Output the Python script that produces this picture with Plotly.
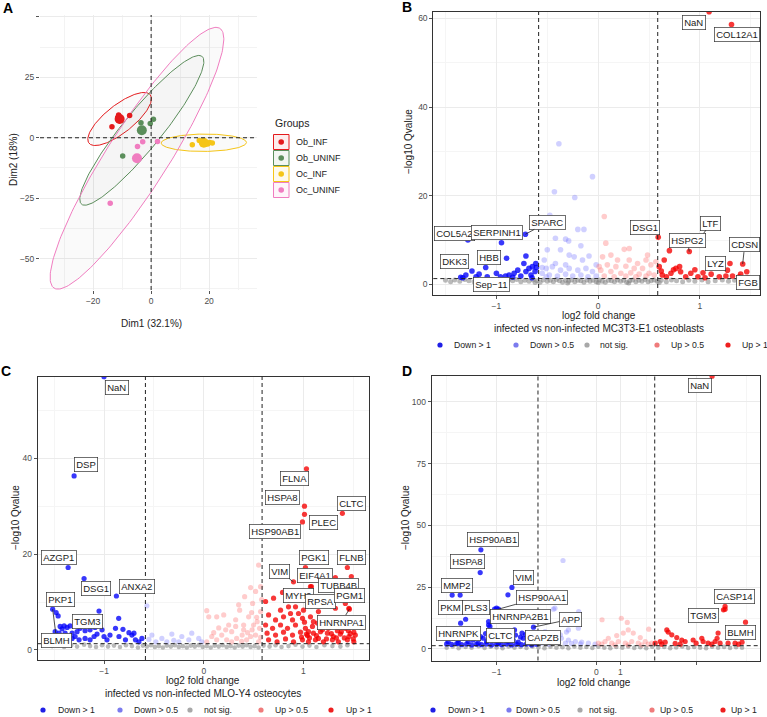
import numpy as np
import plotly.graph_objects as go

W, H = 767, 717
FONT = "Liberation Sans, Arial, Helvetica, sans-serif"

# ---------------- Panel A : PCA individuals ----------------
GROUPS = ["Ob_INF", "Ob_UNINF", "Oc_INF", "Oc_UNINF"]
GROUP_COLORS = ["#E41A1C", "#5B8E5B", "#F5C518", "#F07DC0"]
OB_INF_DIM1 = [-11.2, -11.5, -10.6, -10.9, -13.5, -7.4]
OB_INF_DIM2 = [9.4, 8.4, 8.0, 7.0, 4.6, 9.2]
OB_UNINF_DIM1 = [-3.5, -0.3, 0.8, -9.8]
OB_UNINF_DIM2 = [6.2, 5.9, 7.7, -7.5]
OC_INF_DIM1 = [14.2, 16.6, 17.4, 20.2, 21.1, 19.5]
OC_INF_DIM2 = [-2.9, -1.1, -1.6, -2.0, -2.2, -2.6]
OC_UNINF_DIM1 = [-2.9, -4.7, 2.2, -14.1]
OC_UNINF_DIM2 = [-1.7, -3.6, -1.5, -27.1]
# concentration ellipses: semi-axes (Dim units) and tilt (degrees)
ELLIPSE_A = [14.6, 37.0, 14.7, 60.9]
ELLIPSE_B = [5.3, 7.0, 3.6, 11.0]
ELLIPSE_ANGLE = [45.0, 56.2, 0.5, 62.3]

# ---------------- Volcano categories ----------------
CATEGORIES = ["Down > 1", "Down > 0.5", "not sig.", "Up > 0.5", "Up > 1"]
FC_CUT = 0.585
Q_CUT = 1.3

# ---------------- Panel B : MC3T3-E1 osteoblasts ----------------
B_SIG = [(-0.90, 5.9), (-0.71, 6.4), (-1.24, 3.0), (-1.17, 2.3), (-1.09, 1.7), (-1.35, 1.6),
         (-1.33, 1.5), (-0.875, 2.1), (-0.826, 2.5), (-0.79, 3.2), (-0.76, 1.9), (-0.71, 2.9),
         (-0.68, 3.6), (-0.646, 4.0), (-0.613, 4.7), (-0.607, 3.8), (-0.62, 2.9), (-0.66, 2.1),
         (-0.73, 4.7), (-1.0, 2.5), (-0.96, 1.7), (-0.91, 1.9), (-0.84, 1.6), (-0.65, 1.5),
         (-0.386, 31.7), (-0.056, 24.3), (-0.23, 19.6), (-0.43, 20.9), (-0.475, 15.6), (-0.42, 10.4),
         (-0.32, 10.2), (-0.20, 12.4), (-0.14, 12.4), (-0.50, 7.8), (-0.37, 7.8), (-0.285, 6.6),
         (-0.154, 5.5), (-0.53, 5.5), (-0.42, 4.7), (-0.32, 4.4), (-0.236, 6.2), (-0.09, 6.4),
         (-0.51, 3.6), (-0.45, 4.0), (-0.37, 3.2), (-0.285, 3.6), (-0.20, 3.2), (-0.12, 3.6),
         (-0.056, 2.9), (-0.55, 2.5), (-0.48, 2.1), (-0.40, 1.9), (-0.32, 2.3), (-0.25, 1.9),
         (-0.17, 2.1), (-0.10, 1.7), (-0.02, 1.9), (-0.55, 3.8), (-0.02, 4.4), (-0.51, 1.7),
         (-0.17, 8.7), (-0.29, 9.8),
         (0.06, 15.3), (0.256, 7.9), (0.485, 6.6), (0.305, 8.1), (0.075, 9.3), (0.125, 6.6),
         (0.043, 6.2), (0.19, 5.5), (0.305, 5.5), (0.387, 4.7), (0.47, 5.5), (0.09, 4.4),
         (0.174, 4.0), (0.272, 4.1), (0.354, 3.6), (0.436, 3.6), (0.518, 4.4), (0.026, 3.2),
         (0.125, 2.9), (0.223, 2.5), (0.32, 2.6), (0.403, 2.3), (0.50, 2.5), (0.06, 1.9),
         (0.157, 1.7), (0.272, 1.9), (0.37, 1.7), (0.47, 1.9), (0.55, 2.1), (0.01, 4.0), (0.567, 5.1),
         (0.70, 7.6), (0.649, 5.5), (0.60, 4.0), (0.764, 3.6), (0.81, 2.85), (0.91, 2.5),
         (1.03, 2.6), (1.11, 2.3), (1.19, 1.7), (1.255, 1.9), (1.32, 1.9), (1.386, 1.7),
         (1.47, 1.5), (0.63, 2.1), (0.715, 2.5), (0.86, 1.7), (0.98, 1.7), (1.27, 3.2),
         (1.05, 1.5), (0.67, 1.7), (0.74, 3.3), (0.62, 3.0), (0.80, 4.0), (0.95, 3.3), (1.40, 2.3)]
B_NS = [(-1.50, 0.9), (-1.45, 0.6), (-1.41, 1.0), (-1.36, 0.7), (-1.31, 1.1), (-1.27, 0.8),
        (-1.22, 0.6), (-1.18, 1.0), (-1.13, 0.7), (-1.09, 0.9), (-1.04, 1.1), (-1.00, 0.6),
        (-0.96, 0.9), (-0.92, 0.7), (-0.88, 1.0), (-0.84, 0.8), (-0.80, 1.1), (-0.76, 0.6),
        (-0.72, 0.9), (-0.68, 0.7), (-0.64, 1.0), (-0.60, 0.8), (-0.57, 0.5), (-0.54, 1.0),
        (-0.50, 0.7), (-0.47, 0.9), (-0.44, 0.6), (-0.41, 1.1), (-0.38, 0.8), (-0.35, 0.5),
        (-0.32, 0.9), (-0.29, 0.7), (-0.26, 1.0), (-0.23, 0.6), (-0.20, 0.9), (-0.17, 0.8),
        (-0.14, 0.5), (-0.11, 1.0), (-0.08, 0.7), (-0.05, 0.9), (-0.02, 0.6), (0.01, 1.0),
        (0.04, 0.7), (0.07, 0.5), (0.10, 0.9), (0.13, 0.8), (0.16, 0.6), (0.19, 1.0),
        (0.22, 0.7), (0.25, 0.9), (0.28, 0.5), (0.31, 0.8), (0.34, 1.0), (0.37, 0.6),
        (0.40, 0.9), (0.43, 0.7), (0.46, 1.1), (0.49, 0.6), (0.52, 0.8), (0.55, 1.0),
        (0.58, 0.7), (0.62, 0.9), (0.67, 0.6), (0.72, 1.0), (0.77, 0.8), (0.83, 0.6),
        (0.89, 0.9), (0.95, 0.7), (1.02, 1.0), (1.08, 0.6), (1.15, 0.8), (1.22, 1.0),
        (1.28, 0.7), (1.34, 0.9), (1.40, 0.6), (1.45, 0.8), (-0.62, 0.4), (-0.30, 0.3),
        (0.00, 0.4), (0.30, 0.3), (0.60, 0.4), (-0.90, 0.4)]
B_LABELS = [("NaN", 1.09, 61.5), ("COL12A1", 1.31, 58.6), ("SPARC", -0.715, 11.3),
            ("COL5A2", -1.28, 10.0), ("SERPINH1", -0.95, 9.4), ("DSG1", 0.59, 10.6),
            ("LTF", 0.99, 10.0), ("HSPG2", 0.895, 7.4), ("CDSN", 1.42, 4.6), ("LYZ", 1.295, 4.7),
            ("FGB", 1.46, 2.85), ("DKK3", -1.30, 2.1), ("HBB", -1.105, 3.8), ("Sep\u221211", -1.20, 1.7)]

# ---------------- Panel C : MLO-Y4 osteocytes ----------------
C_SIG = [(-1.05, 8.1), (-1.46, 7.1), (-1.44, 4.9), (-1.40, 5.0), (-1.37, 4.7), (-1.49, 3.8),
         (-1.45, 3.5), (-1.39, 3.5), (-1.32, 3.5), (-1.27, 3.8), (-1.24, 4.5), (-1.19, 4.0),
         (-1.14, 4.2), (-1.07, 3.3), (-1.09, 4.7), (-1.02, 4.2), (-1.0, 2.8), (-0.97, 2.1),
         (-0.94, 3.1), (-0.885, 4.5), (-0.85, 2.8), (-0.81, 4.3), (-0.785, 2.1), (-0.75, 3.6),
         (-0.72, 3.1), (-0.685, 2.1), (-0.65, 1.7), (-0.62, 2.4), (-1.19, 2.4), (-1.25, 2.1),
         (-1.32, 2.4), (-1.14, 2.1), (-1.10, 2.8), (-0.853, 6.6), (-0.70, 3.5), (-1.42, 4.4),
         (-1.29, 2.8),
         (-0.57, 9.2), (-0.52, 3.1), (-0.42, 2.4), (-0.32, 3.3), (-0.22, 2.8), (-0.12, 3.5),
         (-0.05, 2.4), (-0.48, 1.7), (-0.37, 1.7), (-0.25, 1.7), (-0.15, 2.1), (-0.02, 1.7),
         (-0.55, 2.2), (-0.30, 2.0),
         (0.55, 17.7), (0.47, 13.0), (0.52, 12.2), (0.41, 11.1), (0.35, 9.4), (0.03, 8.2),
         (0.13, 6.9), (0.05, 6.9), (0.20, 7.3), (0.25, 5.2), (0.32, 6.3), (0.36, 8.3), (0.40, 5.2),
         (0.45, 6.9), (0.49, 9.7), (0.535, 5.9), (0.57, 8.0), (0.28, 3.8), (0.385, 3.1),
         (0.485, 4.2), (0.18, 3.1), (0.08, 2.8), (0.13, 2.1), (0.23, 2.1), (0.33, 2.4),
         (0.43, 2.1), (0.52, 3.1), (0.55, 1.7), (0.03, 1.7), (0.28, 1.7), (0.40, 4.2), (0.50, 5.2),
         (0.32, 4.9), (0.56, 4.5), (0.15, 4.6), (0.38, 1.8), (0.47, 2.8), (0.57, 2.6), (0.10, 3.6),
         (0.22, 4.2), (0.44, 3.6), (0.53, 6.8), (0.48, 7.8), (0.58, 10.5), (0.57, 13.2),
         (1.48, 15.3), (1.07, 13.2), (0.85, 9.0), (0.92, 9.0), (1.0, 8.3), (0.77, 8.3), (1.15, 8.0),
         (1.22, 9.4), (1.32, 8.7), (1.455, 8.7), (0.65, 7.3), (0.72, 6.25), (0.80, 6.9), (0.89, 6.25),
         (0.99, 6.6), (1.07, 6.9), (1.14, 5.6), (1.22, 6.6), (1.30, 5.6), (1.39, 5.9), (0.62, 5.2),
         (0.69, 4.5), (0.77, 5.2), (0.84, 4.5), (0.92, 5.2), (1.02, 4.5), (1.09, 4.9), (1.19, 4.2),
         (1.25, 4.5), (1.34, 4.0), (1.42, 4.5), (1.505, 3.7), (0.635, 3.5), (0.72, 3.1), (0.80, 3.7),
         (0.89, 3.1), (0.97, 3.7), (1.04, 3.0), (1.10, 3.5), (1.15, 2.4), (1.24, 3.5), (1.30, 2.8),
         (1.37, 3.3), (1.455, 2.8), (1.52, 3.1), (0.65, 2.1), (0.735, 1.7), (0.82, 2.3), (0.90, 1.7),
         (0.99, 2.1), (1.05, 1.7), (1.12, 2.1), (1.20, 1.7), (1.29, 2.1), (1.35, 1.7), (1.44, 2.1),
         (1.505, 1.7), (0.62, 10.1), (0.70, 10.8), (0.85, 10.4), (0.99, 11.5), (1.09, 10.1),
         (1.34, 11.5), (1.455, 11.1), (1.05, 3.8), (1.27, 5.2), (1.10, 5.9), (1.01, 5.8), (0.87, 7.6),
         (0.95, 7.6), (0.98, 2.7), (1.03, 3.3), (1.06, 2.5), (1.13, 3.0), (1.17, 3.8), (1.23, 2.3),
         (1.28, 3.4), (1.33, 2.5), (1.38, 3.8), (1.41, 2.5), (1.47, 3.4), (1.50, 2.3), (1.45, 4.0),
         (1.35, 4.8)]
C_NS = [(-1.52, 0.8), (-1.46, 1.0), (-1.40, 0.6), (-1.33, 0.9), (-1.27, 0.7), (-1.20, 1.1),
        (-1.14, 0.8), (-1.08, 0.6), (-1.02, 1.0), (-0.96, 0.7), (-0.90, 0.9), (-0.84, 0.6),
        (-0.78, 1.0), (-0.72, 0.8), (-0.66, 0.5), (-0.61, 0.9), (-0.57, 0.7), (-0.53, 1.0),
        (-0.49, 0.6), (-0.45, 0.8), (-0.41, 0.5), (-0.37, 0.9), (-0.33, 0.7), (-0.29, 1.0),
        (-0.25, 0.6), (-0.21, 0.8), (-0.17, 0.5), (-0.13, 0.9), (-0.09, 0.7), (-0.05, 1.0),
        (-0.01, 0.6), (0.03, 0.8), (0.07, 0.5), (0.11, 0.9), (0.15, 0.7), (0.19, 1.0),
        (0.23, 0.6), (0.27, 0.8), (0.31, 0.5), (0.35, 0.9), (0.39, 0.7), (0.43, 1.0),
        (0.47, 0.6), (0.51, 0.8), (0.55, 0.5), (0.60, 0.9), (0.66, 0.7), (0.72, 1.0),
        (0.78, 0.6), (0.85, 0.8), (0.92, 1.1), (0.99, 0.7), (1.06, 0.9), (1.13, 0.6),
        (1.21, 1.0), (1.29, 0.8), (1.37, 0.7), (1.44, 1.0)]
C_LABELS = [("NaN", -1.0, 57.0), ("DSP", -1.30, 36.3), ("FLNA", 1.03, 37.8), ("HSPA8", 1.01, 30.0),
            ("CLTC", 1.39, 28.5), ("PLEC", 1.01, 28.3), ("HSP90AB1", 0.99, 26.7),
            ("AZGP1", -1.36, 17.2), ("PGK1", 1.02, 17.2), ("FLNB", 1.44, 17.2), ("VIM", 0.90, 14.2),
            ("EIF4A1", 1.08, 13.2), ("TUBB4B", 1.32, 15.1), ("DSG1", -1.20, 14.9),
            ("ANXA2", -0.876, 11.25), ("MYH9", 0.79, 12.0), ("RPSA", 1.08, 9.2), ("PGM1", 1.42, 9.7),
            ("HNRNPA1", 1.46, 8.5), ("PKP1", -1.48, 7.8), ("BLMH", -1.515, 8.5), ("TGM3", -1.34, 5.0)]

# ---------------- Panel D ----------------
D_SIG = [(-1.485, 3.0), (-1.435, 4.3), (-1.385, 2.3), (-1.334, 4.3), (-1.284, 3.0), (-1.234, 3.6),
         (-1.184, 2.3), (-1.134, 4.3), (-1.084, 3.6), (-1.033, 3.6), (-0.983, 2.3), (-0.933, 4.3),
         (-0.883, 3.0), (-0.833, 3.6), (-0.783, 2.7), (-0.732, 4.3), (-0.682, 3.0), (-0.632, 3.6),
         (-1.46, 5.7), (-1.41, 6.5), (-1.36, 5.2), (-1.31, 7.0), (-1.26, 5.7), (-1.21, 6.6),
         (-1.16, 5.0), (-1.11, 6.2), (-1.06, 7.4), (-1.01, 5.4), (-0.96, 6.5), (-0.91, 5.1),
         (-0.86, 7.0), (-0.81, 5.6), (-0.76, 4.8), (-0.71, 5.8), (-0.66, 4.9), (-1.50, 2.0),
         (-1.45, 1.8), (-1.40, 2.1), (-1.35, 1.7), (-1.30, 2.0), (-1.25, 1.6), (-1.20, 1.9),
         (-1.15, 1.7), (-1.10, 2.0), (-1.05, 1.6), (-1.00, 1.9), (-0.95, 1.7), (-0.90, 2.0),
         (-0.85, 1.6), (-0.80, 1.9), (-0.75, 1.7), (-0.70, 2.0), (-0.65, 1.6), (-0.60, 1.9),
         (-1.067, 9.1), (-1.08, 11.1), (-0.90, 6.8), (-0.82, 7.7), (-1.365, 21.8), (-0.886, 21.9),
         (-1.00, 16.5), (-1.31, 12.0),
         (-0.334, 35.8), (-0.43, 16.1), (-0.177, 15.1), (-0.415, 16.5), (-0.21, 10.8), (-0.28, 7.7),
         (-0.18, 8.4), (-0.48, 5.7), (-0.415, 5.0), (-0.35, 4.3), (-0.28, 3.6), (-0.21, 3.0),
         (-0.147, 2.7), (-0.08, 2.3), (-0.013, 1.9), (-0.515, 3.6), (-0.45, 3.0), (-0.38, 2.7),
         (-0.31, 2.3), (-0.25, 2.2), (-0.16, 2.0), (-0.55, 2.3), (-0.48, 1.9), (-0.36, 5.7),
         (-0.30, 6.8), (-0.515, 7.0),
         (0.057, 11.8), (0.25, 12.4), (0.31, 10.7), (0.525, 8.0), (0.02, 2.3), (0.087, 3.0),
         (0.154, 2.3), (0.22, 3.0), (0.29, 2.3), (0.355, 3.0), (0.42, 2.3), (0.49, 3.0), (0.555, 2.3),
         (0.204, 5.4), (0.27, 6.4), (0.44, 4.6), (0.12, 4.3), (0.32, 7.7), (0.37, 6.4), (0.054, 1.9),
         (0.187, 1.6), (0.32, 1.6), (0.455, 1.6), (0.52, 1.9),
         (1.29, 16.1), (0.706, 7.7), (0.72, 6.8), (0.756, 5.7), (0.806, 4.6), (0.856, 3.6),
         (0.59, 2.3), (0.64, 3.0), (0.69, 2.7), (0.79, 2.2), (0.89, 3.0), (0.97, 3.6), (1.0, 2.3),
         (1.057, 4.3), (1.07, 3.0), (1.12, 2.3), (1.19, 3.0), (1.24, 2.3), (1.21, 4.3), (1.32, 2.3),
         (1.39, 2.3), (1.46, 2.7), (1.274, 15.8), (0.655, 1.9), (0.84, 1.9), (1.157, 1.9), (1.425, 1.9)]
D_NS = [(-1.50, 0.5), (-1.44, 1.0), (-1.38, 0.3), (-1.31, 0.8), (-1.25, 0.5), (-1.18, 1.1),
        (-1.12, 0.4), (-1.06, 0.9), (-1.00, 0.6), (-0.94, 0.3), (-0.88, 1.0), (-0.82, 0.5),
        (-0.76, 0.8), (-0.70, 0.4), (-0.64, 1.0), (-0.58, 0.6), (-0.52, 0.3), (-0.46, 0.9),
        (-0.40, 0.5), (-0.34, 0.7), (-0.28, 0.3), (-0.22, 1.0), (-0.16, 0.5), (-0.10, 0.8),
        (-0.04, 0.4), (0.02, 0.9), (0.08, 0.5), (0.14, 0.3), (0.20, 0.8), (0.26, 0.5),
        (0.32, 1.0), (0.38, 0.4), (0.44, 0.7), (0.50, 0.3), (0.56, 0.9), (0.62, 0.5),
        (0.68, 0.8), (0.74, 0.3), (0.80, 0.6), (0.86, 1.0), (0.92, 0.4), (0.98, 0.8),
        (1.04, 0.5), (1.10, 0.3), (1.16, 0.9), (1.22, 0.5), (1.28, 0.8), (1.34, 0.4),
        (1.40, 0.7), (1.46, 0.5)]
D_LABELS = [("NaN", 1.16, 110.4), ("HSP90AB1", -1.157, 40.1), ("HSPA8", -1.164, 30.9),
            ("MMP2", -1.445, 21.8), ("VIM", -0.846, 24.9), ("HSP90AA1", -0.98, 16.1),
            ("PKM", -1.36, 10.4), ("PLS3", -1.02, 16.1), ("HNRNPA2B1", -1.08, 9.7),
            ("APP", -0.63, 8.8), ("HNRNPK", -1.38, 3.6), ("CLTC", -1.10, 3.0),
            ("CAPZB", -0.745, 6.4), ("CASP14", 1.29, 17.2), ("TGM3", 1.22, 6.4), ("BLMH", 1.495, 10.8)]

# ---------------- styling (not data) ----------------
CAT_COLORS = {"Down > 1": "rgba(0,0,250,0.78)", "Down > 0.5": "rgba(110,110,255,0.32)",
              "not sig.": "rgba(130,130,130,0.55)", "Up > 0.5": "rgba(255,110,110,0.35)",
              "Up > 1": "rgba(245,0,0,0.78)"}
LEG_COLORS = {"Down > 1": "#1f1fe6", "Down > 0.5": "#7b7bee", "not sig.": "#a8a8a8",
              "Up > 0.5": "#ef7b7b", "Up > 1": "#ee1f1f"}
# label offsets in pixels (dx, dy, draw segment)
B_OFF = {"NaN": (-15, 11, 0), "COL12A1": (5, 10, 0), "SPARC": (22, -12, 1), "COL5A2": (-13, -7, 0),
         "SERPINH1": (-4, -10, 0), "DSG1": (-13, -10, 0), "LTF": (12, -17, 1), "HSPG2": (-2, -11, 1),
         "CDSN": (2, -19, 1), "LYZ": (-14, 0, 0), "FGB": (1, 11, 0), "DKK3": (-11, -14, 0),
         "HBB": (3, -10, 0), "Sep\u221211": (15, 8, 0)}
C_OFF = {"NaN": (13, 11, 0), "DSP": (12, -11, 0), "FLNA": (-12, 10, 0), "HSPA8": (-22, -9, 0),
         "CLTC": (9, -10, 0), "PLEC": (19, 8, 0), "HSP90AB1": (-27, 10, 0), "AZGP1": (-9, -10, 0),
         "PGK1": (9, -10, 0), "FLNB": (4, -10, 0), "VIM": (-14, -10, 1), "EIF4A1": (4, -11, 0),
         "TUBB4B": (3, 8, 0), "DSG1": (12, 10, 0), "ANXA2": (21, -10, 0), "MYH9": (16, 3, 0),
         "RPSA": (9, -4, 0), "PGM1": (4, -8, 0), "HNRNPA1": (-8, 13, 1), "PKP1": (4, -13, 0),
         "BLMH": (4, 31, 1), "TGM3": (17, -4, 0)}
D_OFF = {"NaN": (-12, 9, 0), "HSP90AB1": (12, -10, 0), "HSPA8": (-13, -11, 0), "MMP2": (5, -10, 0),
         "VIM": (12, -10, 0), "HSP90AA1": (43, -12, 1), "PKM": (-10, -16, 0), "PLS3": (-19, -2, 0),
         "HNRNPA2B1": (32, -8, 0), "APP": (37, -8, 1), "HNRNPK": (0, -7, 0), "CLTC": (14, -6, 0),
         "CAPZB": (21, 4, 0), "CASP14": (9, -10, 0), "TGM3": (-15, -18, 0), "BLMH": (-5, 10, 0)}
# legend rows: (marker x positions, text x positions, y) in page pixels
LEGEND_ROWS = [([440, 516, 587, 657, 728], [452, 528, 598, 669, 740], 345),
               ([43, 120, 190, 261, 331], [56, 132, 202, 273, 344], 710),
               ([433, 509, 580, 652, 723], [446, 514, 587, 658, 729], 710)]


def px(x):
    return x / W


def py(y):
    return 1 - y / H


def category(x, y):
    if y < Q_CUT:
        return "not sig."
    if x < -FC_CUT:
        return "Down > 1"
    if x < 0:
        return "Down > 0.5"
    if x < FC_CUT:
        return "Up > 0.5"
    return "Up > 1"


fig = go.Figure()

# ---------- Panel A traces ----------
dims = [(OB_INF_DIM1, OB_INF_DIM2), (OB_UNINF_DIM1, OB_UNINF_DIM2),
        (OC_INF_DIM1, OC_INF_DIM2), (OC_UNINF_DIM1, OC_UNINF_DIM2)]
t = np.linspace(0, 2 * np.pi, 200)
for i, g in enumerate(GROUPS):
    d1, d2 = np.array(dims[i][0]), np.array(dims[i][1])
    cx, cy = d1.mean(), d2.mean()
    th = np.deg2rad(ELLIPSE_ANGLE[i])
    ex = cx + ELLIPSE_A[i] * np.cos(t) * np.cos(th) - ELLIPSE_B[i] * np.sin(t) * np.sin(th)
    ey = cy + ELLIPSE_A[i] * np.cos(t) * np.sin(th) + ELLIPSE_B[i] * np.sin(t) * np.cos(th)
    fig.add_trace(go.Scatter(x=ex, y=ey, mode="lines", fill="toself",
                             fillcolor="rgba(120,120,120,0.035)",
                             line=dict(color=GROUP_COLORS[i], width=1),
                             showlegend=False, hoverinfo="skip", xaxis="x", yaxis="y"))
for i, g in enumerate(GROUPS):
    d1, d2 = np.array(dims[i][0]), np.array(dims[i][1])
    fig.add_trace(go.Scatter(x=d1, y=d2, mode="markers", name=g,
                             marker=dict(color=GROUP_COLORS[i], size=5.5),
                             showlegend=False, xaxis="x", yaxis="y"))
    fig.add_trace(go.Scatter(x=[d1.mean()], y=[d2.mean()], mode="markers", name=g + " mean",
                             marker=dict(color=GROUP_COLORS[i], size=10),
                             showlegend=False, xaxis="x", yaxis="y"))

# ---------- Volcano traces ----------
panels = [("x2", "y2", B_SIG, B_NS, B_LABELS, B_OFF, 5.6),
          ("x3", "y3", C_SIG, C_NS, C_LABELS, C_OFF, 5.2),
          ("x4", "y4", D_SIG, D_NS, D_LABELS, D_OFF, 5.2)]
annotations = []
for xa, ya, sig, ns, labels, offs, msize in panels:
    pts = list(ns) + list(sig) + [(lx, ly) for _, lx, ly in labels]
    for cat in ["not sig.", "Down > 0.5", "Up > 0.5", "Down > 1", "Up > 1"]:
        sel = [p for p in pts if category(p[0], p[1]) == cat]
        fig.add_trace(go.Scatter(x=[p[0] for p in sel], y=[p[1] for p in sel], mode="markers",
                                 marker=dict(color=CAT_COLORS[cat],
                                             size=msize - (0.6 if cat == "not sig." else 0)),
                                 showlegend=False, xaxis=xa, yaxis=ya, name=cat))
    for name, lx, ly in labels:
        dx, dy, seg = offs[name]
        annotations.append(dict(x=lx, y=ly, xref=xa, yref=ya, text=name, showarrow=True,
                                ax=dx, ay=dy, arrowhead=0, arrowwidth=0.8, standoff=0,
                                arrowcolor="#222" if seg else "rgba(0,0,0,0)",
                                font=dict(family=FONT, size=9.5, color="#1a1a1a"),
                                bgcolor="white", bordercolor="#333", borderwidth=0.7,
                                borderpad=1.5))

# ---------- axes ----------
tickfont = dict(family=FONT, size=8.5, color="#4d4d4d")
common = dict(showgrid=True, gridcolor="#ebebeb", gridwidth=0.8, zeroline=False,
              ticks="outside", ticklen=3, tickcolor="#555", tickfont=tickfont, tickmode="array")
box = dict(showline=True, mirror=True, linecolor="#333", linewidth=1)

layout = dict(
    width=W, height=H, autosize=False, margin=dict(l=0, r=0, t=0, b=0),
    paper_bgcolor="white", plot_bgcolor="white", font=dict(family=FONT), showlegend=False,
    xaxis=dict(domain=[px(40), px(257)], range=[-38.3, 36.5], tickvals=[-20, 0, 20],
               ticktext=["\u221220", "0", "20"],
               minor=dict(showgrid=True, gridcolor="#f3f3f3", tickvals=[-30, -10, 10, 30]),
               anchor="y", **common),
    yaxis=dict(domain=[py(290), py(15)], range=[-63, 50.8], tickvals=[-50, -25, 0, 25, 50],
               ticktext=["\u221250", "\u221225", "0", "25", ""],
               minor=dict(showgrid=True, gridcolor="#f3f3f3", tickvals=[-62.5, -37.5, -12.5, 12.5, 37.5]),
               anchor="x", **common),
    xaxis2=dict(domain=[px(433.3), px(760)], range=[-1.62, 1.59], tickvals=[-1, 0, 1],
                ticktext=["\u22121", "0", "1"],
                minor=dict(showgrid=True, gridcolor="#f5f5f5", tickvals=[-1.5, -0.5, 0.5, 1.5]),
                anchor="y2", **common, **box),
    yaxis2=dict(domain=[py(295), py(11.7)], range=[-2.4, 61.5], tickvals=[0, 20, 40, 60],
                minor=dict(showgrid=True, gridcolor="#f5f5f5", tickvals=[10, 30, 50]),
                anchor="x2", **common, **box),
    xaxis3=dict(domain=[px(37.7), px(369.3)], range=[-1.665, 1.66], tickvals=[-1, 0, 1],
                ticktext=["\u22121", "0", "1"],
                minor=dict(showgrid=True, gridcolor="#f5f5f5", tickvals=[-1.5, -0.5, 0.5, 1.5]),
                anchor="y3", **common, **box),
    yaxis3=dict(domain=[py(660), py(376.7)], range=[-2.1, 57], tickvals=[0, 20, 40],
                minor=dict(showgrid=True, gridcolor="#f5f5f5", tickvals=[10, 30, 50]),
                anchor="x3", **common, **box),
    xaxis4=dict(domain=[px(431.7), px(760)], range=[-1.65, 1.64], tickvals=[-1, 0, 0.24, 1],
                ticktext=["\u22121", "0", "1", ""],
                minor=dict(showgrid=True, gridcolor="#f5f5f5", tickvals=[-1.5, -0.5, 0.5, 1.5]),
                anchor="y4", **common, **box),
    yaxis4=dict(domain=[py(660.5), py(376)], range=[-4.7, 110.5], tickvals=[0, 25, 50, 75, 100],
                minor=dict(showgrid=True, gridcolor="#f5f5f5", tickvals=[12.5, 37.5, 62.5, 87.5]),
                anchor="x4", **common, **box),
)

# ---------- reference lines ----------
shapes = []
dash = dict(color="#222", width=1, dash="4px,3px")
shapes.append(dict(type="line", xref="x", yref="y domain", x0=0, x1=0, y0=0, y1=1, line=dash))
shapes.append(dict(type="line", xref="x domain", yref="y", x0=0, x1=1, y0=0, y1=0, line=dash))
for xa, ya in [("x2", "y2"), ("x3", "y3"), ("x4", "y4")]:
    for v in (-FC_CUT, FC_CUT):
        shapes.append(dict(type="line", xref=xa, yref=ya + " domain", x0=v, x1=v, y0=0, y1=1,
                           line=dash))
    shapes.append(dict(type="line", xref=xa + " domain", yref=ya, x0=0, x1=1, y0=Q_CUT,
                       y1=Q_CUT, line=dash))

# ---------- legends ----------
legfont = dict(family=FONT, size=8.7, color="#222")
for mxs, txs, ly in LEGEND_ROWS:
    for cat, mx, tx in zip(CATEGORIES, mxs, txs):
        r = 2.6
        shapes.append(dict(type="circle", xref="paper", yref="paper", x0=px(mx - r), x1=px(mx + r),
                           y0=py(ly + r), y1=py(ly - r), line=dict(width=0),
                           fillcolor=LEG_COLORS[cat]))
        annotations.append(dict(x=px(tx), y=py(ly), xref="paper", yref="paper", text=cat,
                                showarrow=False, xanchor="left", yanchor="middle", font=legfont))

annotations.append(dict(x=px(273), y=py(123), xref="paper", yref="paper", text="Groups",
                        showarrow=False, xanchor="left", yanchor="middle",
                        font=dict(family=FONT, size=10.5, color="#222")))
fills = ["rgba(228,26,28,0.08)", "rgba(91,142,91,0.08)", "rgba(245,197,24,0.08)",
         "rgba(240,125,192,0.08)"]
for i, g in enumerate(GROUPS):
    cyp = 142 + 16 * i
    shapes.append(dict(type="rect", xref="paper", yref="paper", x0=px(273.5), x1=px(289),
                       y0=py(cyp + 7.5), y1=py(cyp - 7.5), line=dict(color=GROUP_COLORS[i], width=1),
                       fillcolor=fills[i]))
    shapes.append(dict(type="circle", xref="paper", yref="paper", x0=px(281.2 - 2.8),
                       x1=px(281.2 + 2.8), y0=py(cyp + 2.8), y1=py(cyp - 2.8),
                       line=dict(width=0), fillcolor=GROUP_COLORS[i]))
    annotations.append(dict(x=px(294), y=py(cyp), xref="paper", yref="paper", text=g,
                            showarrow=False, xanchor="left", yanchor="middle",
                            font=dict(family=FONT, size=9, color="#222")))

# ---------- titles ----------
tfont = dict(family=FONT, size=10, color="#222")


def text(x, y, s, angle=0, font=tfont):
    annotations.append(dict(x=px(x), y=py(y), xref="paper", yref="paper", text=s, showarrow=False,
                            textangle=angle, xanchor="center", yanchor="middle", font=font))


text(151, 323, "Dim1 (32.1%)")
text(14, 159, "Dim2 (18%)", -90)
text(599, 315, "log2 fold change")
text(599, 328, "infected vs non-infected MC3T3-E1 osteoblasts")
text(409, 142, "\u2212log10 Qvalue", -90)
text(203, 680, "log2 fold change")
text(203, 693, "infected vs non-infected MLO-Y4 osteocytes")
text(15, 518, "\u2212log10 Qvalue", -90)
text(594, 682, "log2 fold change")
text(405, 518, "\u2212log10 Qvalue", -90)
pfont = dict(family=FONT, size=14, color="#000")
text(8, 8, "<b>A</b>", font=pfont)
text(407, 7, "<b>B</b>", font=pfont)
text(6, 371, "<b>C</b>", font=pfont)
text(407, 371, "<b>D</b>", font=pfont)

layout["shapes"] = shapes
layout["annotations"] = annotations
fig.update_layout(**layout)
fig.write_html("out.html", config={"displayModeBar": False},
               post_script="document.body.style.margin='0px';")
